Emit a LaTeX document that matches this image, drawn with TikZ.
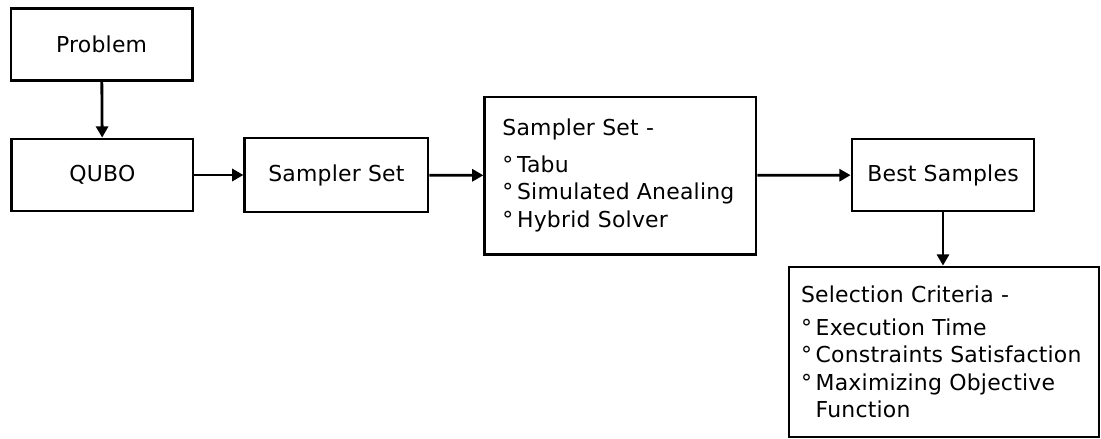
\documentclass[tikz,border=0pt]{standalone}
\usepackage{fontspec}
\setmainfont{DejaVu Sans}[LetterSpace=1]
\usetikzlibrary{arrows.meta}

% small raised circle used as bullet
\newcommand{\itm}{°\hspace{0.17em}}

\begin{document}
\begin{tikzpicture}[
    >={Triangle[length=0.28cm,width=0.3cm]},
    line width=2pt,
    every node/.style={font=\fontsize{15.6pt}{19.5pt}\selectfont},
    stage/.style={draw, minimum width=4.53cm, minimum height=1.8cm, inner sep=0pt},
    listbox/.style={draw, align=left}
  ]
  \useasboundingbox (0,0) rectangle (27.525,-10.975);

  \node[stage] (problem) at (2.54, -1.11) {Problem};
  \node[stage] (qubo) at (2.56, -4.375) {QUBO};
  \node[stage, minimum width=4.58cm, minimum height=1.85cm] (sampler) at (8.41, -4.375) {Sampler Set};

  \node[listbox, text width=5.9cm, inner xsep=0.44cm, minimum height=3.93cm] (samplers) at (15.51, -4.39)
    {Sampler Set -\\[6.5pt]
     \itm Tabu\\
     \itm Simulated Anealing\\
     \itm Hybrid Solver};

  \node[stage, minimum width=4.55cm] (best) at (23.575, -4.375) {Best Samples};

  \node[listbox, text width=7.15cm, inner xsep=0.3cm, minimum height=4.25cm] (criteria) at (23.6, -8.8)
    {Selection Criteria -\\[3.5pt]
     \itm Execution Time\\
     \itm Constraints Satisfaction\\
     \itm Maximizing Objective\\
     \hphantom{\itm}Function};

  \draw[->] (problem) to (qubo);
  \draw[->] (qubo) to (sampler);
  \draw[->] (sampler) to (samplers);
  \draw[->] (samplers) to (best);
  \draw[->] (best.south) to (best.south |- criteria.north);
\end{tikzpicture}
\end{document}
